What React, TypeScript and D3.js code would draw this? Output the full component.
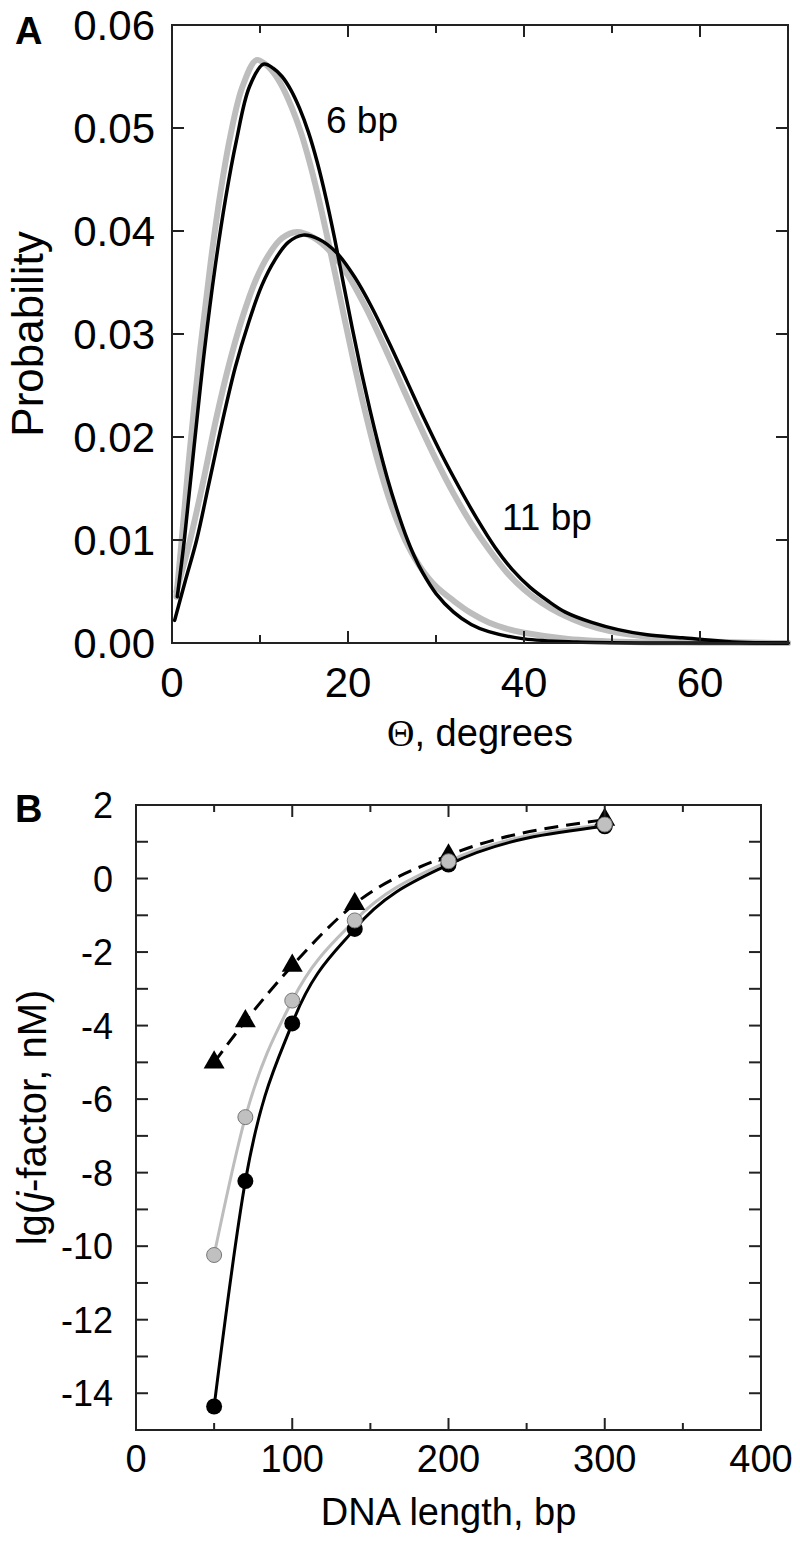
import React from "react";
import * as d3 from "d3";

// ---------- Panel A data: probability vs Θ (degrees) ----------
const gray6bp: [number, number][] = [
  [0.5, 0.0045], [1.1, 0.010], [2.0, 0.0185], [3.2, 0.0285], [4.4, 0.0370], [5.5, 0.0437],
  [6.6, 0.0491], [8.0, 0.0540], [9.6, 0.0566], [10.6, 0.0562], [11.6, 0.0553], [12.6, 0.0539],
  [13.6, 0.0520], [14.6, 0.0497], [15.6, 0.0468], [16.6, 0.0434], [17.6, 0.0396], [18.6, 0.0356],
  [19.6, 0.0315], [20.6, 0.0275], [21.6, 0.0237], [22.6, 0.0202], [23.6, 0.0170], [24.6, 0.0142],
  [25.6, 0.0118], [26.6, 0.0098], [27.6, 0.0082], [28.6, 0.0069], [30.0, 0.0055], [32.0, 0.0041],
  [34.0, 0.0029], [36.0, 0.0020], [38.0, 0.0014], [40.0, 0.0010], [45.0, 0.0004], [52.0, 0.0001],
  [60.0, 0.00003], [70, 0.0],
];
const black6bp: [number, number][] = [
  [0.6, 0.0045], [1.4, 0.010], [2.5, 0.019], [3.7, 0.0285], [4.9, 0.0365], [6.1, 0.0432],
  [7.3, 0.0487], [8.8, 0.0540], [10.4, 0.0562], [11.5, 0.0558], [12.5, 0.0550], [13.5, 0.0537],
  [14.5, 0.0519], [15.5, 0.0496], [16.5, 0.0467], [17.5, 0.0432], [18.5, 0.0392], [19.5, 0.0348],
  [20.5, 0.0305], [21.5, 0.0264], [22.5, 0.0226], [23.5, 0.0191], [24.5, 0.0159], [25.5, 0.0131],
  [26.5, 0.0106], [27.5, 0.0085], [28.5, 0.0068], [30.0, 0.0048], [32.0, 0.0030], [34.0, 0.0018],
  [36.0, 0.0011], [40.0, 0.0004], [46.0, 0.0001], [55.0, 0.0], [70, 0.0],
];
const gray11bp: [number, number][] = [
  [0.5, 0.0050], [2.0, 0.0098], [3.5, 0.0155], [5.0, 0.0217], [6.5, 0.0271], [8.0, 0.0316],
  [9.5, 0.0352], [11.0, 0.0377], [12.5, 0.0393], [14.2, 0.0399], [16.0, 0.0394], [18.0, 0.0380],
  [20.0, 0.0357], [22.0, 0.0326], [24.0, 0.0290], [26.0, 0.0252], [28.0, 0.0214], [30.0, 0.0178],
  [32.0, 0.0145], [34.0, 0.0116], [36.0, 0.0091], [38.0, 0.0069], [40.0, 0.0052], [42.0, 0.0039],
  [44.0, 0.0029], [47.0, 0.0018], [50.0, 0.0011], [54.0, 0.0006], [58.0, 0.0003], [63.0, 0.0001],
  [70, 0.0],
];
const black11bp: [number, number][] = [
  [0.3, 0.0022], [1.5, 0.0060], [2.8, 0.0100], [4.2, 0.0155], [5.7, 0.0214], [7.2, 0.0268],
  [8.7, 0.0311], [10.2, 0.0347], [11.7, 0.0372], [13.2, 0.0389], [14.9, 0.0396], [16.7, 0.0392],
  [18.7, 0.0379], [20.7, 0.0356], [22.7, 0.0326], [24.7, 0.0291], [26.7, 0.0254], [28.7, 0.0217],
  [30.7, 0.0182], [32.7, 0.0150], [34.7, 0.0120], [36.7, 0.0093], [38.7, 0.0071], [40.7, 0.0054],
  [42.7, 0.0041], [44.7, 0.0030], [47.7, 0.0020], [50.7, 0.0013], [54.0, 0.0008], [58.0, 0.0005],
  [63.7, 0.0001], [70, 0.0],
];
const thetaTicks = [0, 10, 20, 30, 40, 50, 60, 70];
const thetaLabels = [0, 20, 40, 60];
const probTicks = [0, 0.01, 0.02, 0.03, 0.04, 0.05, 0.06];

// ---------- Panel B data: lg(j-factor) vs DNA length ----------
const lengths = [50, 70, 100, 140, 200, 300];
const blackCircles = [-14.36, -8.23, -3.94, -1.37, 0.38, 1.42];
const grayCircles = [-10.24, -6.49, -3.32, -1.14, 0.47, 1.47];
const triangles = [-5.0, -3.88, -2.37, -0.69, 0.63, 1.6];
const lengthTicks = [0, 50, 100, 150, 200, 250, 300, 350, 400];
const lengthLabels = [0, 100, 200, 300, 400];
const jTicks = d3.range(-15, 3, 1);
const jLabels = [2, 0, -2, -4, -6, -8, -10, -12, -14];

const FONT = "'Liberation Sans', Arial, Helvetica, sans-serif";
const FRAME = "#222";

export default function App() {
  // Panel A scales
  const ax = d3.scaleLinear().domain([0, 70]).range([172, 788]);
  const ay = d3.scaleLinear().domain([0, 0.06]).range([643, 25]);
  const lineA = d3
    .line<[number, number]>()
    .x((d) => ax(d[0]))
    .y((d) => ay(d[1]))
    .curve(d3.curveCatmullRom.alpha(0.5));

  // Panel B scales
  const bx = d3.scaleLinear().domain([0, 400]).range([136, 761]);
  const by = d3.scaleLinear().domain([-15, 2]).range([1430, 805]);
  const lineB = d3
    .line<[number, number]>()
    .x((d) => bx(d[0]))
    .y((d) => by(d[1]))
    .curve(d3.curveMonotoneX);
  const zip = (vals: number[]) => lengths.map((l, i) => [l, vals[i]] as [number, number]);
  const tri = d3.symbol().type(d3.symbolTriangle).size(190);

  const [aL, aR] = ax.range();
  const [aB, aT] = ay.range();
  const [bL, bR] = bx.range();
  const [bB, bT] = by.range();

  return (
    <svg
      width={800}
      height={1544}
      style={{ position: "absolute", left: 0, top: 0, background: "#fff" }}
      fontFamily={FONT}
    >
      {/* ================= Panel A ================= */}
      <text x={15} y={44} fontSize={38} fontWeight="bold">A</text>
      <g fill="none" strokeLinejoin="round" strokeLinecap="round">
        <path d={lineA(gray11bp) || ""} stroke="#bdbdbd" strokeWidth={6} />
        <path d={lineA(gray6bp) || ""} stroke="#bdbdbd" strokeWidth={6} />
        <path d={lineA(black11bp) || ""} stroke="#000" strokeWidth={3.5} />
        <path d={lineA(black6bp) || ""} stroke="#000" strokeWidth={3.5} />
      </g>
      <rect x={aL} y={aT} width={aR - aL} height={aB - aT} fill="none" stroke={FRAME} strokeWidth={2} />
      {thetaTicks.map((t) => {
        const len = thetaLabels.includes(t) ? 12 : 8;
        return (
          <g key={"ax" + t} stroke={FRAME} strokeWidth={2}>
            <line x1={ax(t)} x2={ax(t)} y1={aB} y2={aB - len} />
            <line x1={ax(t)} x2={ax(t)} y1={aT} y2={aT + len} />
          </g>
        );
      })}
      {probTicks.map((p) => (
        <g key={"ay" + p} stroke={FRAME} strokeWidth={2}>
          <line x1={aL} x2={aL + 12} y1={ay(p)} y2={ay(p)} />
          <line x1={aR} x2={aR - 12} y1={ay(p)} y2={ay(p)} />
        </g>
      ))}
      {probTicks.map((p) => (
        <text key={"ayl" + p} x={155} y={ay(p) + 15} fontSize={42} textAnchor="end">
          {p.toFixed(2)}
        </text>
      ))}
      {thetaLabels.map((t) => (
        <text key={"axl" + t} x={ax(t)} y={697} fontSize={42} textAnchor="middle">
          {t}
        </text>
      ))}
      <text x={(aL + aR) / 2} y={746} fontSize={38} textAnchor="middle">
        <tspan fontFamily="'Liberation Serif', 'DejaVu Serif', serif">Θ</tspan>, degrees
      </text>
      <text transform={`translate(43,${(aT + aB) / 2}) rotate(-90)`} fontSize={44} textAnchor="middle">
        Probability
      </text>
      <text x={326} y={133} fontSize={37}>6 bp</text>
      <text x={502} y={530} fontSize={37}>11 bp</text>

      {/* ================= Panel B ================= */}
      <text x={15} y={822} fontSize={38} fontWeight="bold">B</text>
      <g fill="none" strokeLinejoin="round">
        <path d={lineB(zip(grayCircles)) || ""} stroke="#bdbdbd" strokeWidth={3} />
        <path d={lineB(zip(blackCircles)) || ""} stroke="#000" strokeWidth={3} />
        <path d={lineB(zip(triangles)) || ""} stroke="#000" strokeWidth={3} strokeDasharray="14,8" />
      </g>
      {lengths.map((l, i) => (
        <path key={"tr" + l} d={tri() || ""} transform={`translate(${bx(l)},${by(triangles[i])})`} fill="#000" />
      ))}
      {lengths.map((l, i) => (
        <circle key={"bc" + l} cx={bx(l)} cy={by(blackCircles[i])} r={8} fill="#000" />
      ))}
      {lengths.map((l, i) => (
        <circle key={"gc" + l} cx={bx(l)} cy={by(grayCircles[i])} r={7.5} fill="#c0c0c0" stroke="#777" strokeWidth={1} />
      ))}
      <rect x={bL} y={bT} width={bR - bL} height={bB - bT} fill="none" stroke={FRAME} strokeWidth={2} />
      {lengthTicks.map((t) => {
        const len = lengthLabels.includes(t) ? 12 : 7;
        return (
          <g key={"bx" + t} stroke={FRAME} strokeWidth={2}>
            <line x1={bx(t)} x2={bx(t)} y1={bB} y2={bB - len} />
            <line x1={bx(t)} x2={bx(t)} y1={bT} y2={bT + len} />
          </g>
        );
      })}
      {jTicks.map((v) => (
        <g key={"by" + v} stroke={FRAME} strokeWidth={2}>
          <line x1={bL} x2={bL + 12} y1={by(v)} y2={by(v)} />
          <line x1={bR} x2={bR - 12} y1={by(v)} y2={by(v)} />
        </g>
      ))}
      {jLabels.map((v) => (
        <text key={"byl" + v} x={113} y={by(v) + 13} fontSize={36} textAnchor="end">
          {v}
        </text>
      ))}
      {lengthLabels.map((t) => (
        <text key={"bxl" + t} x={bx(t)} y={1472} fontSize={38} textAnchor="middle">
          {t}
        </text>
      ))}
      <text x={(bL + bR) / 2} y={1525} fontSize={38} textAnchor="middle">
        DNA length, bp
      </text>
      <text transform={`translate(46,${(bT + bB) / 2}) rotate(-90)`} fontSize={40} textAnchor="middle">
        lg(<tspan fontStyle="italic">j</tspan>-factor, nM)
      </text>
    </svg>
  );
}
